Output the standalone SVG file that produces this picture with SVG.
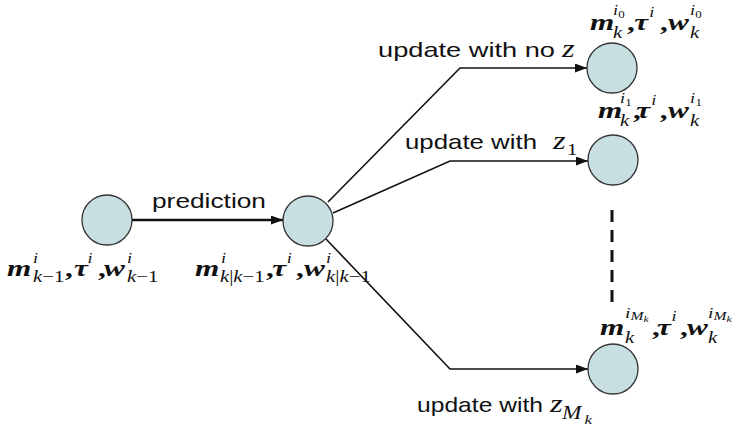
<svg xmlns="http://www.w3.org/2000/svg" width="746" height="430" viewBox="0 0 746 430">
<defs>
<marker id="arr" markerUnits="userSpaceOnUse" markerWidth="13" markerHeight="10" refX="12" refY="4.5" orient="auto">
<path d="M0,0 L12,4.5 L0,9 z" fill="#111"/>
</marker>
<style>
.node circle{fill:#c7dfe1;stroke:#333;stroke-width:1.3}
.conn path{fill:none;stroke:#111;stroke-width:1.6}
.conn path.thick{stroke-width:2.6}
.conn path.dash{stroke-width:3;stroke-dasharray:12 8}
.sans{font-family:"Liberation Sans",Arial,sans-serif;font-size:21px;fill:#111}
.mi{font-family:"Liberation Serif","Times New Roman",serif;font-style:italic;font-size:25px;fill:#111}
.mb{font-weight:bold;font-size:24px}
.mr{font-family:"Liberation Serif","Times New Roman",serif;font-style:normal;fill:#111}
.cm{font-size:24px;font-weight:bold}
.sup{font-size:16px}
.sub{font-size:16px}
.s15{font-size:15px}
.s14{font-size:14px}
.s12{font-size:12px}
.s10{font-size:10px}
.s9{font-size:9px}
.s18{font-size:18px}
.s13{font-size:13px}
</style>
</defs>
<rect width="746" height="430" fill="#fff"/>

<g id="connectors" class="conn">
<path class="thick" d="M132,220 H283" marker-end="url(#arr)"/>
<path d="M328,202 L460,68 H587" marker-end="url(#arr)"/>
<path d="M333,213 L450,161 H588" marker-end="url(#arr)"/>
<path d="M326,239 L450,369 H588" marker-end="url(#arr)"/>
<path class="dash" d="M612,210 V302"/>
</g>

<g id="nodeA" class="node"><circle cx="107" cy="220" r="25"/></g>
<g id="nodeB" class="node"><circle cx="308" cy="221" r="25"/></g>
<g id="node0" class="node"><circle cx="612" cy="68" r="25"/></g>
<g id="node1" class="node"><circle cx="613" cy="160" r="25"/></g>
<g id="nodeM" class="node"><circle cx="613" cy="369" r="25"/></g>

<g id="labels">
<text class="sans" x="152" y="208" textLength="114" lengthAdjust="spacingAndGlyphs">prediction</text>
<text class="sans" x="378" y="57" textLength="177" lengthAdjust="spacingAndGlyphs">update with no</text>
<text class="sans" x="405" y="149" textLength="132" lengthAdjust="spacingAndGlyphs">update with</text>
<text class="sans" x="417" y="412" textLength="126" lengthAdjust="spacingAndGlyphs">update with</text>

<g transform="translate(562,57) scale(1.3,1)"><text class="mi" x="0" y="0">z</text></g>
<g transform="translate(553,149) scale(1.3,1)"><text class="mi" x="0" y="0">z</text><text class="mr sub" x="10.8" y="6">1</text></g>
<g transform="translate(550,412) scale(1.3,1)"><text class="mi" x="0" y="0">z</text><text class="mi s18" x="9.2" y="7">M</text><text class="mi s13" x="26.5" y="12">k</text></g>

<g transform="translate(7,276) scale(1.3,1)">
<text class="mi mb" x="0" y="0">m</text>
<text class="mi s14" x="20" y="-13">i</text>
<text class="mi sub" x="20" y="6">k<tspan class="mr">−1</tspan></text>
<text class="mr cm" x="44.6" y="0">,</text>
<text class="mi mb" x="51.5" y="0">τ</text>
<text class="mi s14" x="62" y="-13">i</text>
<text class="mr cm" x="70" y="0">,</text>
<text class="mi mb" x="74.6" y="0">w</text>
<text class="mi s14" x="92.3" y="-13">i</text>
<text class="mi sub" x="92.3" y="6">k<tspan class="mr">−1</tspan></text>
</g>

<g transform="translate(195,276) scale(1.3,1)">
<text class="mi mb" x="0" y="0">m</text>
<text class="mi s14" x="20" y="-13">i</text>
<text class="mi sub" x="19.2" y="6">k<tspan class="mr">|</tspan>k<tspan class="mr">−1</tspan></text>
<text class="mr cm" x="54.6" y="0">,</text>
<text class="mi mb" x="59.5" y="0">τ</text>
<text class="mi s14" x="70.5" y="-13">i</text>
<text class="mr cm" x="77.7" y="0">,</text>
<text class="mi mb" x="83.8" y="0">w</text>
<text class="mi s14" x="100.8" y="-13">i</text>
<text class="mi sub" x="100.8" y="6">k<tspan class="mr">|</tspan>k<tspan class="mr">−1</tspan></text>
</g>

<g transform="translate(590,30) scale(1.3,1)">
<text class="mi mb" x="0" y="0">m</text>
<text class="mi s14" x="17.7" y="-15">i</text>
<text class="mr s10" x="21.8" y="-12">0</text>
<text class="mi sub" x="17.7" y="8">k</text>
<text class="mr cm" x="28.5" y="0">,</text>
<text class="mi mb" x="34" y="0">τ</text>
<text class="mi s14" x="45.5" y="-13">i</text>
<text class="mr cm" x="53.8" y="0">,</text>
<text class="mi mb" x="60" y="0">w</text>
<text class="mi s14" x="76.9" y="-15">i</text>
<text class="mr s10" x="81" y="-12">0</text>
<text class="mi sub" x="76.9" y="8">k</text>
</g>

<g transform="translate(598,118) scale(1.3,1)">
<text class="mi mb" x="0" y="0">m</text>
<text class="mi s14" x="16.9" y="-15">i</text>
<text class="mr s10" x="21" y="-12">1</text>
<text class="mi sub" x="16.9" y="8">k</text>
<text class="mr cm" x="26.9" y="0">,</text>
<text class="mi mb" x="29.5" y="0">τ</text>
<text class="mi s14" x="41" y="-13">i</text>
<text class="mr cm" x="47.5" y="0">,</text>
<text class="mi mb" x="53.8" y="0">w</text>
<text class="mi s14" x="70.8" y="-15">i</text>
<text class="mr s10" x="75" y="-12">1</text>
<text class="mi sub" x="70.8" y="8">k</text>
</g>

<g transform="translate(600,335) scale(1.3,1)">
<text class="mi mb" x="0" y="0">m</text>
<text class="mi s15" x="19.2" y="-17">i</text>
<text class="mi s12" x="23.4" y="-15">M</text>
<text class="mi s9" x="33.4" y="-13">k</text>
<text class="mi sub" x="19.2" y="8">k</text>
<text class="mr cm" x="40" y="0">,</text>
<text class="mi mb" x="43.8" y="0">τ</text>
<text class="mi s14" x="55" y="-14">i</text>
<text class="mr cm" x="61.5" y="0">,</text>
<text class="mi mb" x="66.9" y="0">w</text>
<text class="mi s15" x="83.1" y="-17">i</text>
<text class="mi s12" x="87.3" y="-15">M</text>
<text class="mi s9" x="97.3" y="-13">k</text>
<text class="mi sub" x="83.1" y="8">k</text>
</g>
</g>
</svg>
